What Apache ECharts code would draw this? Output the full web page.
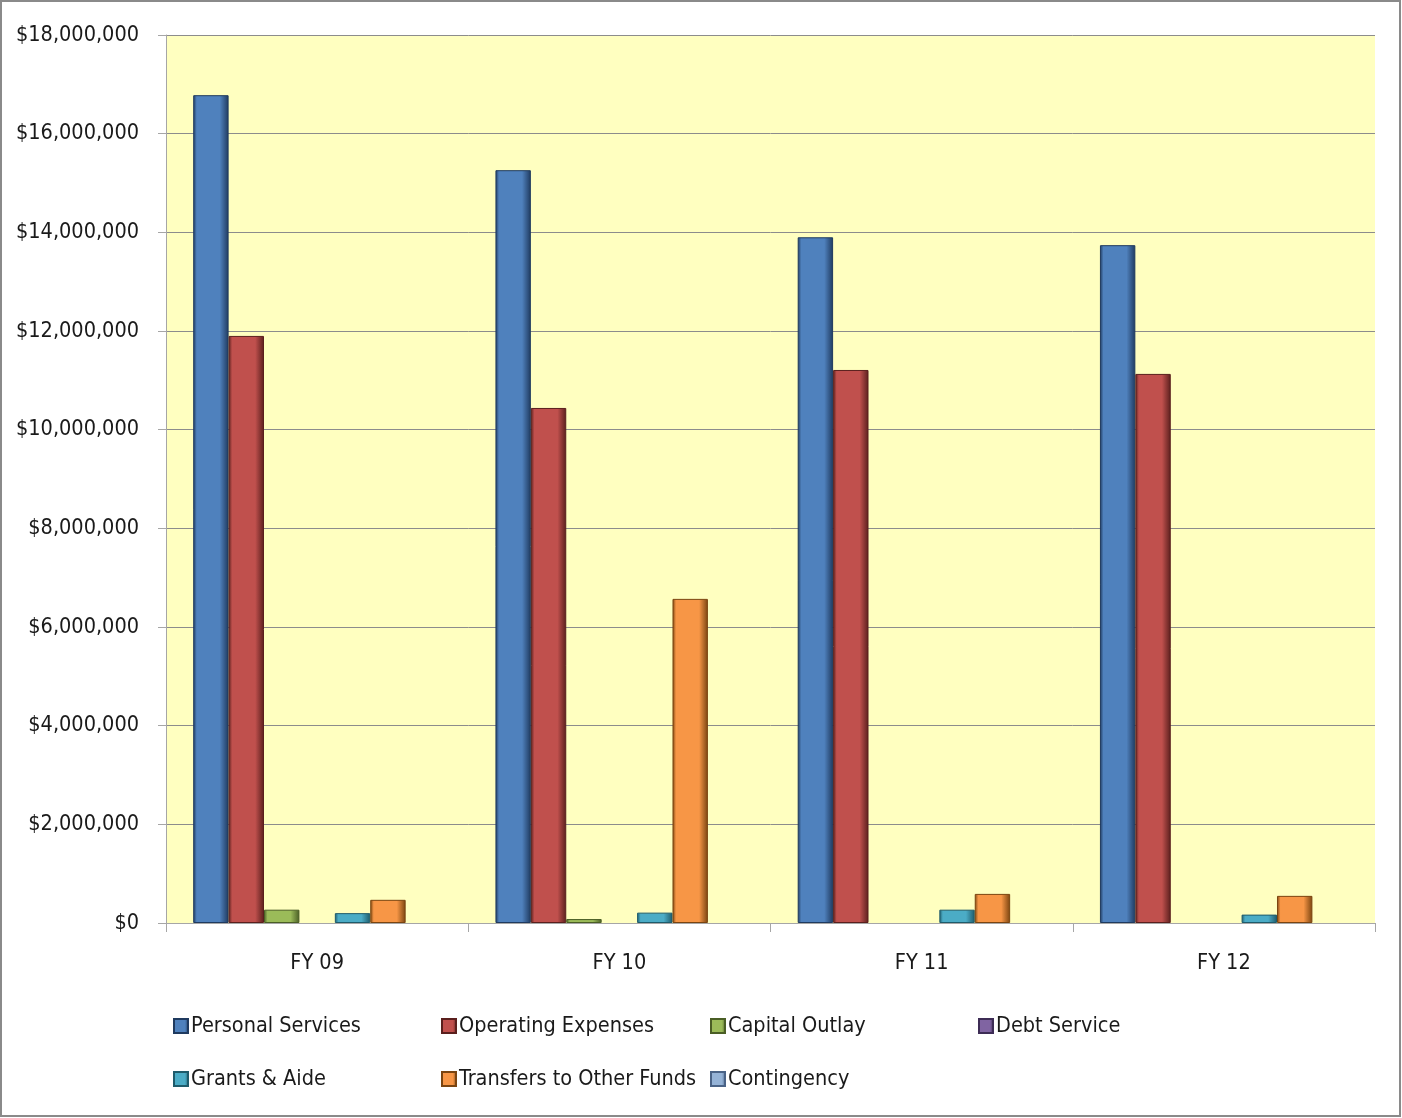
<!DOCTYPE html>
<html><head><meta charset="utf-8">
<script src="https://cdn.jsdelivr.net/npm/echarts@6/dist/echarts.min.js"></script>
<style>html,body{margin:0;padding:0;background:#fff}#c{width:1402px;height:1118px}</style>
</head><body><div id="c"></div>
<script>
const categories = ['FY 09', 'FY 10', 'FY 11', 'FY 12'];
const personalServices = [16780000, 15260000, 13900000, 13740000];
const operatingExpenses = [11900000, 10440000, 11210000, 11130000];
const capitalOutlay = [270000, 80000, 0, 0];
const debtService = [0, 0, 0, 0];
const grantsAide = [200000, 210000, 270000, 170000];
const transfers = [470000, 6570000, 590000, 550000];
const contingency = [0, 0, 0, 0];
const seriesNames = ['Personal Services','Operating Expenses','Capital Outlay','Debt Service','Grants & Aide','Transfers to Other Funds','Contingency'];
const seriesData = [personalServices, operatingExpenses, capitalOutlay, debtService, grantsAide, transfers, contingency];
const colors = ['#4F81BD','#C0504D','#9BBB59','#8064A2','#4BACC6','#F79646','#95B3D7'];
const darks = ['#1F3A5F','#5A1F1D','#4A5E25','#3D2C55','#1E5B6B','#7A4410','#4A6387'];

const FONT = '"DejaVu Sans Condensed", "Roboto Condensed", "Liberation Sans Narrow", Roboto, sans-serif';
function fmt(v){ return '$' + String(v).replace(/\B(?=(\d{3})+(?!\d))/g, ','); }

const chart = echarts.init(document.getElementById('c'));
const legendPos = [[173,1015],[441,1015],[710,1015],[978,1015],[173,1068],[441,1068],[710,1068]];
const legends = seriesNames.map((n,i)=>({
  data:[n], left:legendPos[i][0], top:legendPos[i][1], padding:0, icon:'rect', itemWidth:14, itemHeight:14, itemGap:4,
  textStyle:{fontFamily:FONT, fontSize:21.5, color:'#1a1a1a', padding:[0,0,0,-2]}, selectedMode:false
}));
chart.setOption({
  animation:false,
  color: colors,
  graphic:[{type:'rect', shape:{x:1,y:1,width:1399,height:1115}, style:{fill:'none', stroke:'#8a8a8a', lineWidth:2}, z:100}],
  legend: legends,
  grid:{left:166, right:27, top:35, bottom:195, show:true, backgroundColor:'#FFFFC0', borderWidth:0},
  xAxis:{type:'category', data:categories,
    axisLine:{lineStyle:{color:'#a6a6a6', width:1}},
    axisTick:{show:true, length:9, lineStyle:{color:'#a6a6a6'}},
    axisLabel:{fontFamily:FONT, fontSize:21.5, color:'#1a1a1a', margin:29}},
  yAxis:{type:'value', min:0, max:18000000, interval:2000000,
    axisLine:{show:true, lineStyle:{color:'#a6a6a6'}},
    axisTick:{show:true, length:8, lineStyle:{color:'#a6a6a6'}},
    splitLine:{lineStyle:{color:'#8c8c8c', width:1}},
    axisLabel:{fontFamily:FONT, fontSize:21.5, color:'#1a1a1a', margin:27, formatter:fmt}},
  series: seriesData.map((d,i)=>({
    name:seriesNames[i], type:'bar', data:d.map(v=>v===0?null:v), barGap:'0%', barCategoryGap:'18%',
    itemStyle:{
      color:{type:'linear', x:0,y:0,x2:1,y2:0, colorStops:[
        {offset:0,color:darks[i]},{offset:0.1,color:colors[i]},{offset:0.75,color:colors[i]},{offset:1,color:darks[i]}]},
      borderColor:darks[i], borderWidth:1
    }
  }))
});
</script></body></html>
